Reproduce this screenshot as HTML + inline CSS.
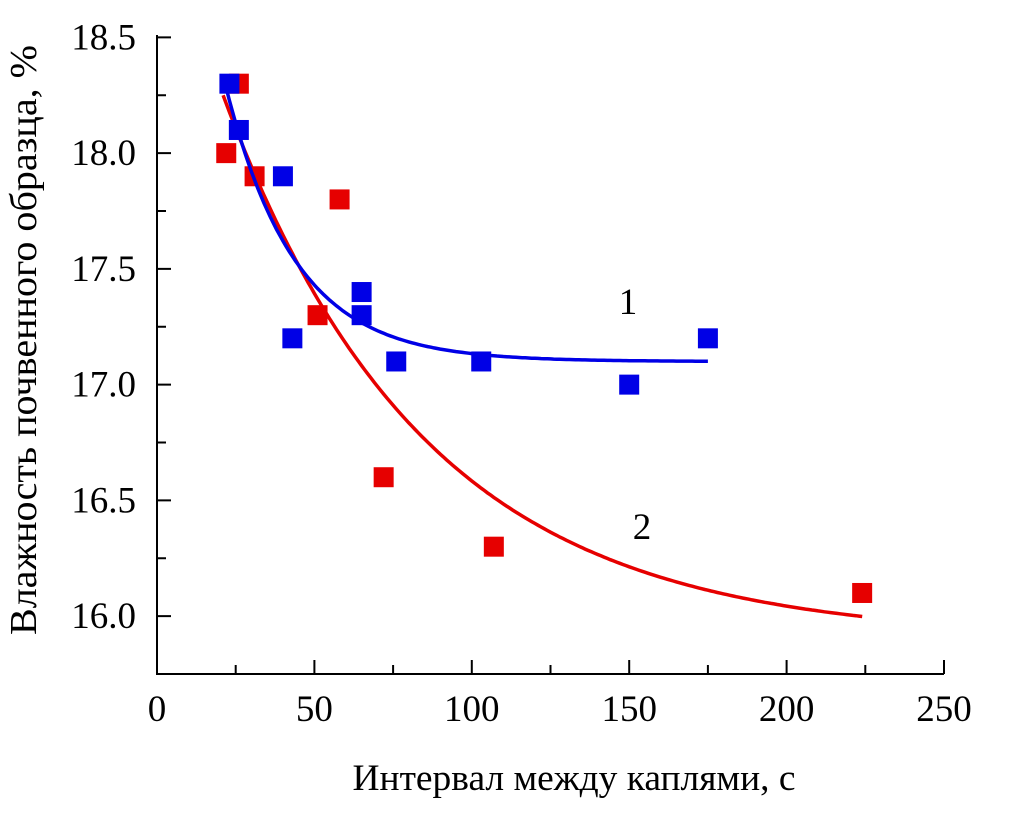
<!DOCTYPE html>
<html><head><meta charset="utf-8"><style>
body{margin:0;background:#fff}
text{font-family:"Liberation Serif","DejaVu Serif",serif;fill:#000}
</style></head><body>
<svg id="chart" width="1015" height="828" xmlns="http://www.w3.org/2000/svg">
<g id="axes"></g>
<g id="plot"></g>
<text x="574" y="790" font-size="37" text-anchor="middle" textLength="443" lengthAdjust="spacingAndGlyphs">Интервал между каплями, с</text>
<text transform="translate(36,340) rotate(-90)" font-size="38" text-anchor="middle" textLength="590" lengthAdjust="spacingAndGlyphs">Влажность почвенного образца, %</text>
</svg>
<script>
const xTicks=[0,50,100,150,200,250];
const yTicks=[16.0,16.5,17.0,17.5,18.0,18.5];
const blueX=[23,26,40,43,65,65,76,103,150,175];
const blueY=[18.3,18.1,17.9,17.2,17.4,17.3,17.1,17.1,17.0,17.2];
const redX=[26,22,31,58,51,72,107,224];
const redY=[18.3,18.0,17.9,17.8,17.3,16.6,16.3,16.1];
const blueFit=[17.1,1.18,22,22,175]; // asymptote, amplitude, x0, decay, xEnd
const redFit=[15.9,2.35,21,64,224];
const NS="http://www.w3.org/2000/svg";
const X0=157,XP=3.148,YB=674,Y0=15.75,YP=231.5;
const sx=v=>X0+v*XP, sy=v=>YB-(v-Y0)*YP;
const axes=document.getElementById('axes'),plot=document.getElementById('plot');
function el(tag,attrs,parent){const e=document.createElementNS(NS,tag);for(const k in attrs)e.setAttribute(k,attrs[k]);parent.appendChild(e);return e;}
let e=el('line',{x1:X0,y1:35,x2:X0,y2:YB+1,stroke:'#000','stroke-width':2},axes);


e=el('line',{x1:X0-1,y1:YB,x2:sx(250),y2:YB,stroke:'#000','stroke-width':2},axes);


for(let i=0;i<xTicks.length;i++){
  const v=xTicks[i];
  e=el('line',{x1:sx(v),y1:YB,x2:sx(v),y2:YB-14,stroke:'#000','stroke-width':2},axes);
  
  
  if(i<xTicks.length-1){
    e=el('line',{x1:sx(v+25),y1:YB,x2:sx(v+25),y2:YB-9,stroke:'#000','stroke-width':2},axes);
    
    
  }
  const t=el('text',{x:sx(v),y:YB+47,'font-size':37,'text-anchor':'middle'},axes);
  t.textContent=v;
  
  
}
for(let i=0;i<yTicks.length;i++){
  const v=yTicks[i];
  e=el('line',{x1:X0,y1:sy(v),x2:X0+14,y2:sy(v),stroke:'#000','stroke-width':2},axes);
  
  
  e=el('line',{x1:X0,y1:sy(v-0.25),x2:X0+9,y2:sy(v-0.25),stroke:'#000','stroke-width':2},axes);
  
  
  const t=el('text',{x:136,y:sy(v)+12,'font-size':37,'text-anchor':'end'},axes);
  t.textContent=v.toFixed(1);
  
  
}
function fit(p,color,name){
  let d='';
  for(let x=p[2];x<=p[4];x+=1){const y=p[0]+p[1]*Math.exp(-(x-p[2])/p[3]);d+=(d?'L':'M')+sx(x).toFixed(1)+','+sy(y).toFixed(1);}
  const c=el('path',{d:d,fill:'none',stroke:color,'stroke-width':3.5},plot);
  
  
}
function pts(xs,ys,color,name){
  for(let i=0;i<xs.length;i++){
    const r=el('rect',{x:sx(xs[i])-10,y:sy(ys[i])-10,width:20,height:20,fill:color},plot);
    
    
  }
}
pts(redX,redY,'#e60000','red-point');
fit(redFit,'#e60000','fit-curve-2');
pts(blueX,blueY,'#0000e6','blue-point');
fit(blueFit,'#0000e6','fit-curve-1');
let l=el('text',{x:628,y:314,'font-size':37,'text-anchor':'middle'},plot);l.textContent='1';


l=el('text',{x:642,y:539,'font-size':37,'text-anchor':'middle'},plot);l.textContent='2';


</script>
</body></html>
